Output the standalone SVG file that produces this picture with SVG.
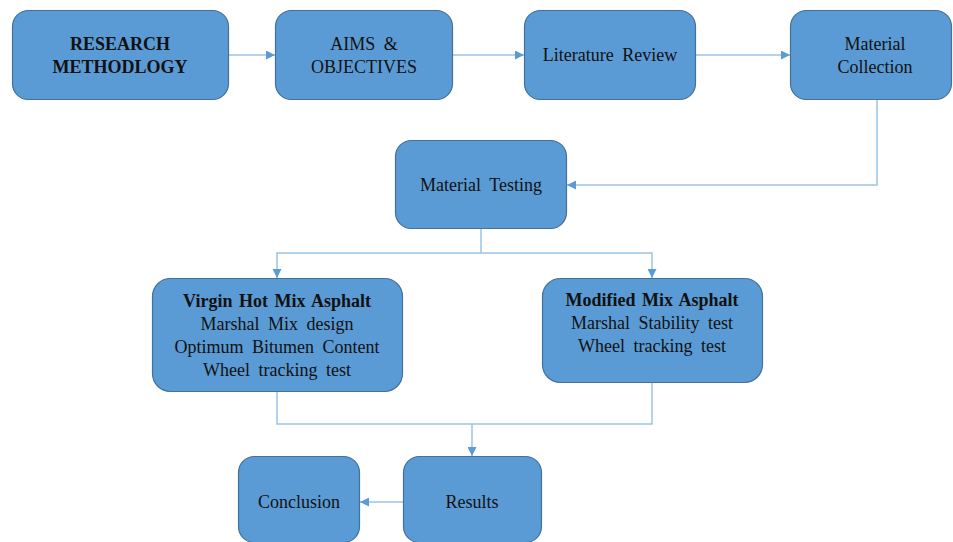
<svg xmlns="http://www.w3.org/2000/svg" width="953" height="542" viewBox="0 0 953 542">
<defs>
<style>
.box{fill:#5B9BD5;stroke:#41719C;stroke-width:1.2}
.t{font-family:"Liberation Serif","Times New Roman",serif;font-size:18px;fill:#111;text-anchor:middle;word-spacing:4px}
.b{font-weight:bold;word-spacing:2px}
.c{fill:none;stroke:#9DC3E6;stroke-width:1.5}
.a{fill:none;stroke:#9DC3E6;stroke-width:1.5;marker-end:url(#ah)}
</style>
<marker id="ah" viewBox="0 0 10 10" refX="10" refY="5" markerWidth="6" markerHeight="6" markerUnits="strokeWidth" orient="auto">
<path d="M0,0 L10,5 L0,10 z" fill="#5B9BD5"/>
</marker>
</defs>
<rect width="953" height="542" fill="#ffffff"/>
<g id="connectors">
<line class="a" x1="229" y1="55" x2="275" y2="55"/>
<line class="a" x1="453" y1="55" x2="524" y2="55"/>
<line class="a" x1="696" y1="55" x2="790" y2="55"/>
<polyline class="a" points="877,100 877,185 567,185"/>
<polyline class="c" points="481,228 481,253"/>
<polyline class="a" points="481,253 277,253 277,278"/>
<polyline class="a" points="481,253 652,253 652,278"/>
<polyline class="c" points="277,392 277,424 652,424 652,383"/>
<line class="a" x1="472" y1="424" x2="472" y2="456"/>
<line class="a" x1="403" y1="502" x2="360" y2="502"/>
</g>
<g id="research-methodology">
<rect class="box" x="12.5" y="10.5" width="216" height="89" rx="16"/>
<text class="t b" x="120" y="50">RESEARCH</text>
<text class="t b" x="120" y="73">METHODLOGY</text>
</g>
<g id="aims-objectives">
<rect class="box" x="275.5" y="10.5" width="177" height="89" rx="16"/>
<text class="t" x="364" y="50">AIMS &amp;</text>
<text class="t" x="364" y="73">OBJECTIVES</text>
</g>
<g id="literature-review">
<rect class="box" x="524.5" y="10.5" width="171" height="89" rx="16"/>
<text class="t" x="610" y="61">Literature Review</text>
</g>
<g id="material-collection">
<rect class="box" x="790.5" y="10.5" width="161" height="89" rx="16"/>
<text class="t" x="875" y="50">Material</text>
<text class="t" x="875" y="73">Collection</text>
</g>
<g id="material-testing">
<rect class="box" x="395.5" y="140.5" width="171" height="88" rx="16"/>
<text class="t" x="481" y="191">Material Testing</text>
</g>
<g id="virgin-hma">
<rect class="box" x="152.5" y="278.5" width="250" height="113" rx="18"/>
<text class="t b" x="277" y="307">Virgin Hot Mix Asphalt</text>
<text class="t" x="277" y="330">Marshal Mix design</text>
<text class="t" x="277" y="353">Optimum Bitumen Content</text>
<text class="t" x="277" y="376">Wheel tracking test</text>
</g>
<g id="modified-ma">
<rect class="box" x="542.5" y="278.5" width="220" height="104" rx="18"/>
<text class="t b" x="652" y="306">Modified Mix Asphalt</text>
<text class="t" x="652" y="329">Marshal Stability test</text>
<text class="t" x="652" y="352">Wheel tracking test</text>
</g>
<g id="results">
<rect class="box" x="403.5" y="456.5" width="138" height="86" rx="16"/>
<text class="t" x="472" y="508">Results</text>
</g>
<g id="conclusion">
<rect class="box" x="238.5" y="456.5" width="121" height="86" rx="16"/>
<text class="t" x="299" y="508">Conclusion</text>
</g>
</svg>
